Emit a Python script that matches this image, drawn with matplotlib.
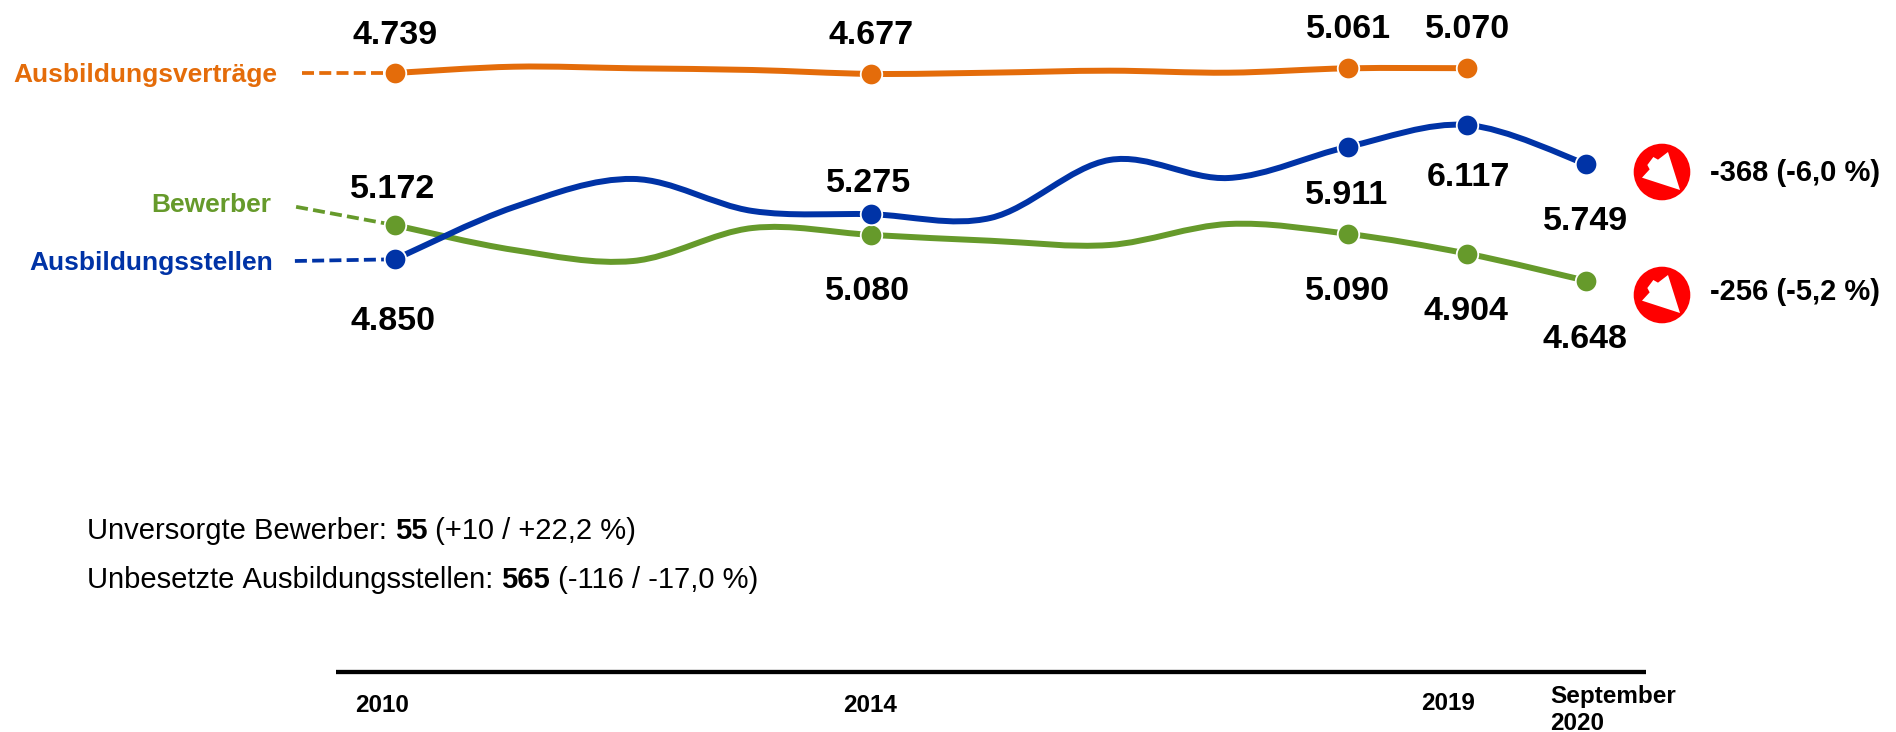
import numpy as np
import matplotlib
matplotlib.use('Agg')
import matplotlib.pyplot as plt
from matplotlib.path import Path
from matplotlib.patches import PathPatch, Circle, Polygon

plt.rcParams['font.family'] = ['Liberation Sans', 'DejaVu Sans']

# Data
years = [2010, 2011, 2012, 2013, 2014, 2015, 2016, 2017, 2018, 2019, 2020]
stellen = [4850, 5343, 5608, 5306, 5275, 5240, 5787, 5617, 5911, 6117, 5749]
bewerber = [5172, 4938, 4834, 5145, 5080, 5025, 4985, 5183, 5090, 4904, 4648]
vertraege_years = years[:-1]
vertraege = [4739, 5173, 5063, 4946, 4677, 4760, 4898, 4760, 5061, 5070]

marked_years = [2010, 2014, 2018, 2019, 2020]
marked_years_v = [2010, 2014, 2018, 2019]

lead_stellen = (2009.16, 4834)
lead_bewerber = (2009.17, 5345)
lead_vertraege = (2009.22, 4739)

# value label centres in pixels
labels_v = [(395, 36), (871, 36), (1349, 29), (1468, 29)]
labels_s = [(393, 322), (869, 183), (1347, 196), (1468, 177), (1586, 221)]
labels_b = [(393, 190), (867, 292), (1347, 291), (1466, 311), (1585, 339)]

ORANGE = '#E46C0A'
BLUE = '#0033A6'
GREEN = '#669A2B'

W, H = 1896, 732
fig = plt.figure(figsize=(W/100, H/100), dpi=100)

ax = fig.add_axes([0, 0, 1, 1])
ax.set_xlim(2006.684, 2022.603)
ax.set_ylim(391, 7296)
ax.patch.set_visible(False)
ax.set_xticks([])
ax.set_yticks([])
for s in ax.spines.values():
    s.set_visible(False)

# orange line has its own compressed scale in the original
ax2 = ax.twinx()
ax2.set_ylim(-40710, 9773)
ax2.patch.set_visible(False)
ax2.set_yticks([])
for s in ax2.spines.values():
    s.set_visible(False)

ov = fig.add_axes([0, 0, 1, 1])
ov.set_xlim(0, W)
ov.set_ylim(H, 0)
ov.axis('off')


def smooth(a, xs, ys, color):
    # catmull-rom segments as bezier curves
    xs = np.array(xs, dtype=float)
    ys = np.array(ys, dtype=float)
    verts = [(xs[0], ys[0])]
    codes = [Path.MOVETO]
    n = len(xs)
    for i in range(n-1):
        p0 = max(i-1, 0)
        p3 = min(i+2, n-1)
        verts.append((xs[i]+(xs[i+1]-xs[p0])/6, ys[i]+(ys[i+1]-ys[p0])/6))
        verts.append((xs[i+1]-(xs[p3]-xs[i])/6, ys[i+1]-(ys[p3]-ys[i])/6))
        verts.append((xs[i+1], ys[i+1]))
        codes += [Path.CURVE4]*3
    a.add_patch(PathPatch(Path(verts, codes), fill=False, edgecolor=color, lw=4.3, zorder=2,
                          capstyle='round'))


def series(a, xs, ys, marked, lead, color):
    smooth(a, xs, ys, color)
    a.plot([lead[0], xs[0]], [lead[1], ys[0]], color=color, lw=2.7, ls=(0, (3.2, 1.4)), zorder=1)
    my = [ys[xs.index(m)] for m in marked]
    a.plot(marked, my, ls='none', marker='o', ms=15.5, mfc=color, mec='white', mew=1.3, zorder=3)


series(ax, years, bewerber, marked_years, lead_bewerber, GREEN)
series(ax, years, stellen, marked_years, lead_stellen, BLUE)
series(ax2, vertraege_years, vertraege, marked_years_v, lead_vertraege, ORANGE)


def fmt(v):
    return f'{v:,}'.replace(',', '.')


for vals, pos in [([vertraege[vertraege_years.index(m)] for m in marked_years_v], labels_v),
                  ([stellen[years.index(m)] for m in marked_years], labels_s),
                  ([bewerber[years.index(m)] for m in marked_years], labels_b)]:
    for v, (px, py) in zip(vals, pos):
        ov.text(px, py, fmt(v), ha='center', va='center', fontsize=24.5, fontweight='bold', color='black')

# series names
ov.text(277, 75, 'Ausbildungsverträge', ha='right', va='center', fontsize=19, fontweight='bold', color=ORANGE)
ov.text(271, 205, 'Bewerber', ha='right', va='center', fontsize=19, fontweight='bold', color=GREEN)
ov.text(273, 263, 'Ausbildungsstellen', ha='right', va='center', fontsize=19, fontweight='bold', color=BLUE)

# change icons
arrow = np.array([(205, 97), (241, 211), (127, 174), (150, 149), (143, 136), (161, 112), (175, 120)], dtype=float)
arrow = (arrow-np.array([187, 157]))/3
for cy, txt, ty in [(172, '-368 (-6,0 %)', 173), (295, '-256 (-5,2 %)', 292)]:
    ov.add_patch(Circle((1662, cy), 28.3, fc='#FF0000', ec='none'))
    ov.add_patch(Polygon(arrow+np.array([1662, cy]), closed=True, fc='white', ec='none'))
    ov.text(1710, ty, txt, ha='left', va='center', fontsize=21, fontweight='bold', color='black')

# bottom notes, regular and bold pieces side by side
fig.canvas.draw()
rend = fig.canvas.get_renderer()
for y, parts in [(531, [('Unversorgte Bewerber: ', 'normal'), ('55', 'bold'), (' (+10 / +22,2 %)', 'normal')]),
                 (580, [('Unbesetzte Ausbildungsstellen: ', 'normal'), ('565', 'bold'), (' (-116 / -17,0 %)', 'normal')])]:
    x = 87
    for s, w in parts:
        t = ov.text(x, y, s.replace(' ', '\u00a0'), ha='left', va='center', fontsize=21, fontweight=w, color='black')
        x = t.get_window_extent(rend).x1

# time axis
ov.plot([336, 1646], [672, 672], color='black', lw=3.1, solid_capstyle='butt')
for px, py, s in [(382, 706, '2010'), (870, 706, '2014'), (1448, 703, '2019')]:
    ov.text(px, py, s, ha='center', va='center', fontsize=17.5, fontweight='bold', color='black')
ov.text(1550, 696, 'September', ha='left', va='center', fontsize=17.5, fontweight='bold', color='black')
ov.text(1550, 730, '2020', ha='left', va='baseline', fontsize=17.5, fontweight='bold', color='black')

fig.savefig('out.png', dpi=100)
